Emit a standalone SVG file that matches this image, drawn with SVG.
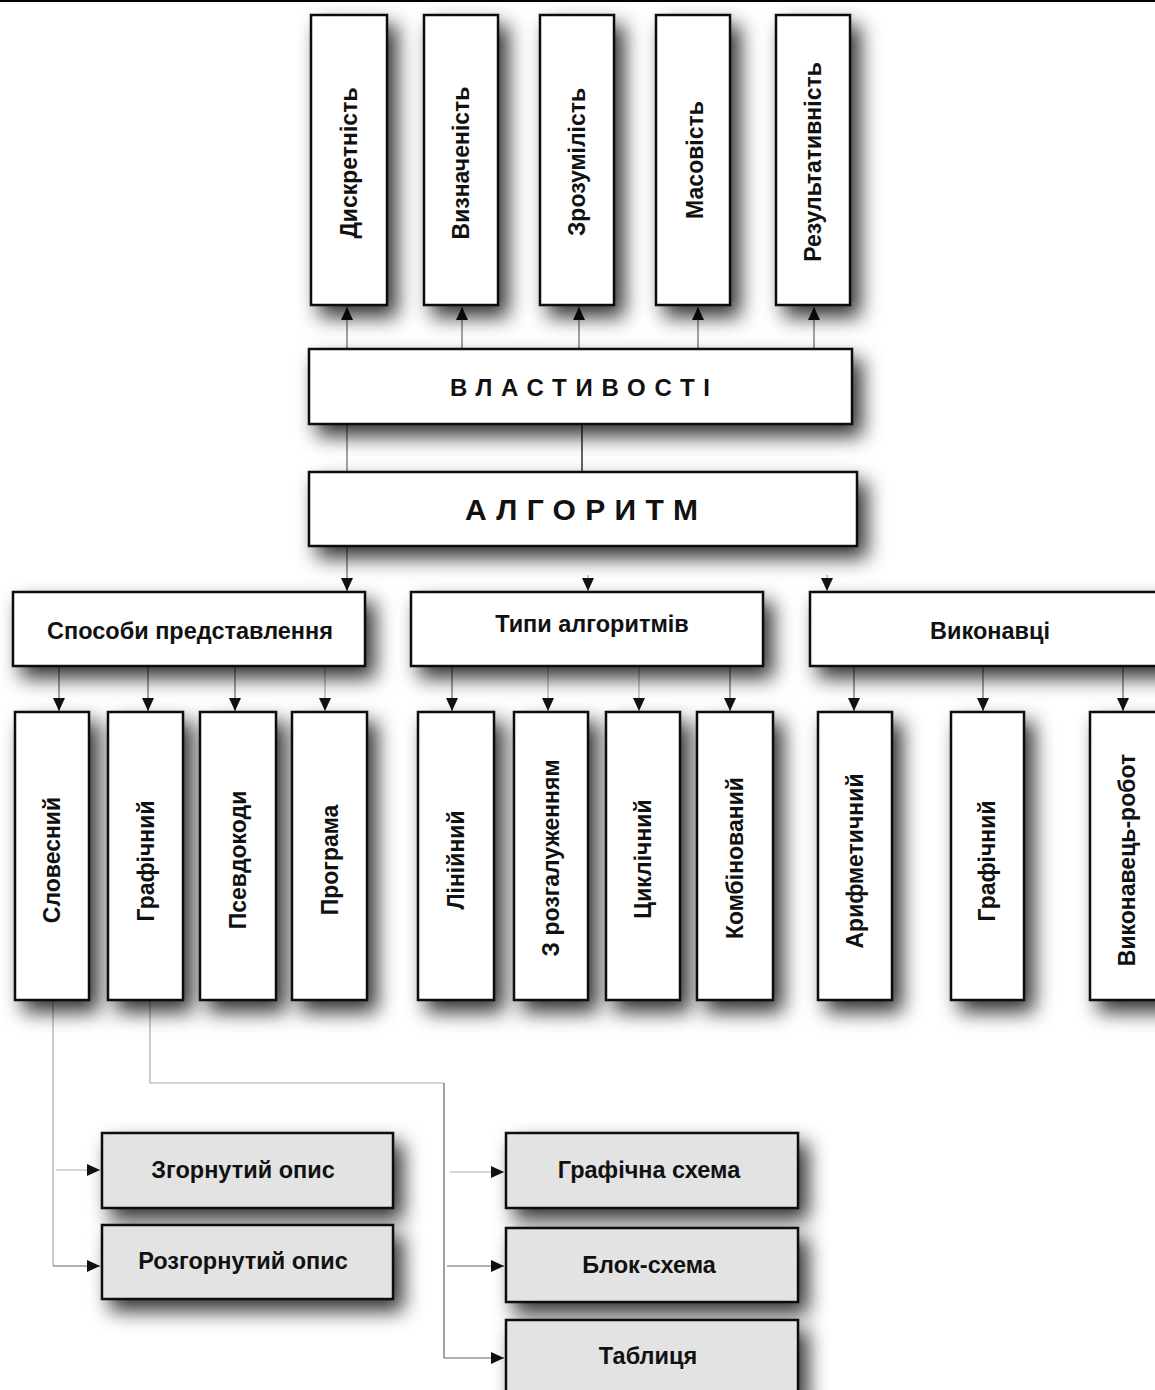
<svg xmlns="http://www.w3.org/2000/svg" width="1155" height="1390" viewBox="0 0 1155 1390">
<defs>
<style>
text{font-family:"Liberation Sans",Arial,sans-serif;font-weight:bold;fill:#111;}
.box{fill:#fff;stroke:#111;stroke-width:2.5;filter:url(#sh);}
.gbox{fill:#e3e3e3;stroke:#111;stroke-width:2.5;filter:url(#sh);}
.v{font-size:23px;text-anchor:middle;}
.h{font-size:23.5px;text-anchor:middle;}
.c{fill:none;stroke:#666;stroke-width:1.2;}
.cd{fill:none;stroke:#222;stroke-width:1.4;}
.cl{fill:none;stroke:#aaa;stroke-width:1.2;}
</style>
<filter id="sh" x="-50%" y="-50%" width="200%" height="200%">
<feDropShadow dx="9" dy="11" stdDeviation="10" flood-color="#000" flood-opacity="0.8"/>
</filter>
<marker id="ar" markerUnits="userSpaceOnUse" markerWidth="13" markerHeight="12" viewBox="0 0 13 12" refX="13" refY="6" orient="auto">
<path d="M0,0 L13,6 L0,12 Z" fill="#111"/>
</marker>
</defs>
<rect width="1155" height="1390" fill="#fff"/>
<line x1="0" y1="1" x2="1155" y2="1" stroke="#000" stroke-width="2"/>

<g id="connectors">
<line class="c" x1="347" y1="349" x2="347" y2="307" marker-end="url(#ar)"/>
<line class="c" x1="462" y1="349" x2="462" y2="307" marker-end="url(#ar)"/>
<line class="c" x1="579" y1="349" x2="579" y2="307" marker-end="url(#ar)"/>
<line class="c" x1="698" y1="349" x2="698" y2="307" marker-end="url(#ar)"/>
<line class="c" x1="814" y1="349" x2="814" y2="307" marker-end="url(#ar)"/>
<line class="c" x1="347" y1="424" x2="347" y2="472"/>
<line class="cd" x1="582" y1="424" x2="582" y2="472"/>
<line class="c" x1="347" y1="546" x2="347" y2="591" marker-end="url(#ar)"/>
<line class="cl" x1="588" y1="575" x2="588" y2="591" marker-end="url(#ar)"/>
<line class="cl" x1="827" y1="575" x2="827" y2="591" marker-end="url(#ar)"/>
<line class="c" x1="59" y1="666" x2="59" y2="711" marker-end="url(#ar)"/>
<line class="c" x1="148" y1="666" x2="148" y2="711" marker-end="url(#ar)"/>
<line class="c" x1="235" y1="666" x2="235" y2="711" marker-end="url(#ar)"/>
<line class="cl" x1="325" y1="666" x2="325" y2="711" marker-end="url(#ar)"/>
<line class="c" x1="452" y1="666" x2="452" y2="711" marker-end="url(#ar)"/>
<line class="cl" x1="548" y1="666" x2="548" y2="711" marker-end="url(#ar)"/>
<line class="cl" x1="639" y1="666" x2="639" y2="711" marker-end="url(#ar)"/>
<line class="c" x1="730" y1="666" x2="730" y2="711" marker-end="url(#ar)"/>
<line class="c" x1="854" y1="666" x2="854" y2="711" marker-end="url(#ar)"/>
<line class="c" x1="983" y1="666" x2="983" y2="711" marker-end="url(#ar)"/>
<line class="c" x1="1123" y1="666" x2="1123" y2="711" marker-end="url(#ar)"/>
<polyline class="cl" points="53,1000 53,1266"/>
<line class="cl" x1="56" y1="1170" x2="100" y2="1170" marker-end="url(#ar)"/>
<line class="c" x1="53" y1="1266" x2="100" y2="1266" marker-end="url(#ar)"/>
<polyline class="cl" points="150,1000 150,1083 444,1083"/>
<polyline class="c" points="444,1083 444,1358 504,1358" marker-end="url(#ar)"/>
<line class="cl" x1="450" y1="1172" x2="504" y2="1172" marker-end="url(#ar)"/>
<line class="c" x1="447" y1="1266" x2="504" y2="1266" marker-end="url(#ar)"/>
</g>

<g id="n-dyskretnist"><rect class="box" x="311" y="15" width="76" height="290"/><text class="v" transform="translate(349,163) rotate(-90)" y="8">Дискретність</text></g>
<g id="n-vyznachenist"><rect class="box" x="424" y="15" width="74" height="290"/><text class="v" transform="translate(461,163) rotate(-90)" y="8">Визначеність</text></g>
<g id="n-zrozumilist"><rect class="box" x="540" y="15" width="74" height="290"/><text class="v" transform="translate(577,162) rotate(-90)" y="8">Зрозумілість</text></g>
<g id="n-masovist"><rect class="box" x="656" y="15" width="74" height="290"/><text class="v" transform="translate(695,160) rotate(-90)" y="8">Масовість</text></g>
<g id="n-rezultatyvnist"><rect class="box" x="776" y="15" width="74" height="290"/><text class="v" transform="translate(813,162) rotate(-90)" y="8">Результативність</text></g>

<g id="n-vlastyvosti"><rect class="box" x="309" y="349" width="543" height="75"/><text x="450" y="396" style="font-size:24px" textLength="260" lengthAdjust="spacing">ВЛАСТИВОСТІ</text></g>
<g id="n-algorytm"><rect class="box" x="309" y="472" width="548" height="74"/><text x="465" y="520" style="font-size:30px" textLength="233" lengthAdjust="spacing">АЛГОРИТМ</text></g>

<g id="n-sposoby"><rect class="box" x="13" y="592" width="352" height="74"/><text class="h" x="190" y="639">Способи представлення</text></g>
<g id="n-typy"><rect class="box" x="411" y="592" width="352" height="74"/><text class="h" x="592" y="632">Типи алгоритмів</text></g>
<g id="n-vykonavtsi"><rect class="box" x="810" y="592" width="360" height="74"/><text class="h" x="990" y="639">Виконавці</text></g>

<g id="n-sloves"><rect class="box" x="15" y="712" width="74" height="288"/><text class="v" transform="translate(52,860) rotate(-90)" y="8">Словесний</text></g>
<g id="n-grafich1"><rect class="box" x="108" y="712" width="75" height="288"/><text class="v" transform="translate(146,861) rotate(-90)" y="8">Графічний</text></g>
<g id="n-psevdo"><rect class="box" x="200" y="712" width="76" height="288"/><text class="v" transform="translate(238,860) rotate(-90)" y="8">Псевдокоди</text></g>
<g id="n-programa"><rect class="box" x="292" y="712" width="75" height="288"/><text class="v" transform="translate(330,860) rotate(-90)" y="8">Програма</text></g>
<g id="n-liniinyi"><rect class="box" x="418" y="712" width="76" height="288"/><text class="v" transform="translate(456,860) rotate(-90)" y="8">Лінійний</text></g>
<g id="n-rozgaluzh"><rect class="box" x="514" y="712" width="74" height="288"/><text class="v" transform="translate(551,858) rotate(-90)" y="8">З розгалуженням</text></g>
<g id="n-tsyklichnyi"><rect class="box" x="606" y="712" width="74" height="288"/><text class="v" transform="translate(643,859) rotate(-90)" y="8">Циклічний</text></g>
<g id="n-kombinovanyi"><rect class="box" x="697" y="712" width="76" height="288"/><text class="v" transform="translate(735,858) rotate(-90)" y="8">Комбінований</text></g>
<g id="n-aryfmetychnyi"><rect class="box" x="818" y="712" width="74" height="288"/><text class="v" transform="translate(855,861) rotate(-90)" y="8">Арифметичний</text></g>
<g id="n-grafich2"><rect class="box" x="951" y="712" width="73" height="288"/><text class="v" transform="translate(987,861) rotate(-90)" y="8">Графічний</text></g>
<g id="n-robot"><rect class="box" x="1090" y="712" width="80" height="288"/><text class="v" transform="translate(1127,860) rotate(-90)" y="8">Виконавець-робот</text></g>

<g id="n-zgornutyi"><rect class="gbox" x="102" y="1133" width="291" height="75"/><text class="h" x="243" y="1178">Згорнутий опис</text></g>
<g id="n-rozgornutyi"><rect class="gbox" x="102" y="1225" width="291" height="74"/><text class="h" x="243" y="1269">Розгорнутий опис</text></g>
<g id="n-grafichna"><rect class="gbox" x="506" y="1133" width="292" height="75"/><text class="h" x="649" y="1178">Графічна схема</text></g>
<g id="n-blok"><rect class="gbox" x="506" y="1228" width="292" height="74"/><text class="h" x="649" y="1273">Блок-схема</text></g>
<g id="n-tablytsia"><rect class="gbox" x="506" y="1320" width="292" height="80"/><text class="h" x="648" y="1364">Таблиця</text></g>
</svg>
